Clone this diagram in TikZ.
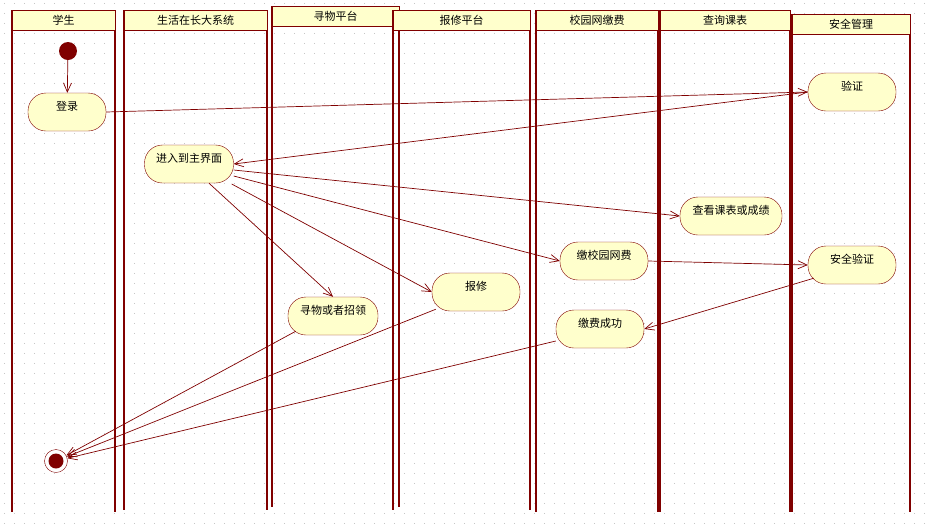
\documentclass[tikz,border=0pt]{standalone}
\usepackage{fontspec}
\setmainfont{Noto Sans CJK SC}
\usetikzlibrary{arrows.meta}
\definecolor{dr}{HTML}{800000}
\definecolor{cream}{HTML}{FFFFCC}
\begin{document}
\begin{tikzpicture}[x=1pt,y=-1pt,
  act/.style={draw=dr,fill=cream,rounded corners=18pt,minimum width=#1,minimum height=38pt,inner sep=0pt,font=\fontsize{11}{12}\selectfont,text depth=12pt},
  act/.default=88pt,
  hdr/.style={draw=dr,line width=1pt,fill=cream,font=\fontsize{11}{12}\selectfont},
  lane/.style={draw=dr,line width=1.8pt},
  flow/.style={draw=dr,line width=0.7pt,-{Straight Barb[length=9pt,width=8pt]}}]
\useasboundingbox (0,0) rectangle (925,523);
\fill[white] (0,0) rectangle (925,523);
\foreach \i in {0,...,92}{\foreach \j in {0,...,52}{\fill[gray!45] (\i*10+4,\j*10+3) rectangle ++(1,1);}}
% lanes
\newcommand{\mylane}[5]{%
 \draw[lane] (#1,#3) -- (#1,#4); \draw[lane] (#2,#3) -- (#2,#4);
 \draw[hdr] (#1,#3) rectangle (#2,#3+20);
 \node[font=\fontsize{11}{12}\selectfont] at ({(#1+#2)/2},#3+10) {#5};}
\mylane{12}{115}{10}{512}{学生}
\mylane{124}{267}{10}{510}{生活在长大系统}
\mylane{272}{399}{6}{507}{寻物平台}
\mylane{393}{530}{10}{510}{报修平台}
\mylane{536}{658}{10}{512}{校园网缴费}
\mylane{660}{790}{10}{512}{查询课表}
\mylane{792}{910}{14}{512}{安全管理}
% nodes
\node[circle,fill=dr,minimum size=18pt,inner sep=0pt] (s) at (68,51) {};
\node[act=78pt] (login) at (67,112) {登录};
\node[act] (verify) at (852,92) {验证};
\node[act=89pt] (main) at (189,164) {进入到主界面};
\node[act=102pt] (course) at (731,216) {查看课表或成绩};
\node[act] (pay) at (604,261) {缴校园网费};
\node[act] (sec) at (852,265) {安全验证};
\node[act] (repair) at (476,292) {报修};
\node[act=90pt] (lost) at (333,316) {寻物或者招领};
\node[act] (ok) at (600,329) {缴费成功};
\node[circle,draw=dr,fill=white,minimum size=23pt,inner sep=0pt] (e) at (56,461) {};
\fill[dr] (e) circle (7.5pt);
% flows
\draw[flow] (s) -- (login);
\draw[flow] (login.east) -- (verify.west);
\draw[flow] (verify.west) -- (main.east);
\draw[flow] ([yshift=-6pt]main.east) -- (course.west);
\draw[flow] ([yshift=-12pt]main.east) -- (pay.west);
\draw[flow] ([xshift=-2pt,yshift=-20pt]main.east) -- (repair.west);
\draw[flow] ([xshift=20pt]main.south) -- (lost.north);
\draw[flow] (pay.east) -- (sec.west);
\draw[flow] ([xshift=6pt,yshift=6pt]sec.south west) -- (ok.east);
\draw[flow] ([xshift=8pt,yshift=4pt]lost.south west) -- (e);
\draw[flow] ([xshift=4pt,yshift=2pt]repair.south west) -- (e);
\draw[flow] ([yshift=-12pt]ok.west) -- (e);
\end{tikzpicture}
\end{document}
